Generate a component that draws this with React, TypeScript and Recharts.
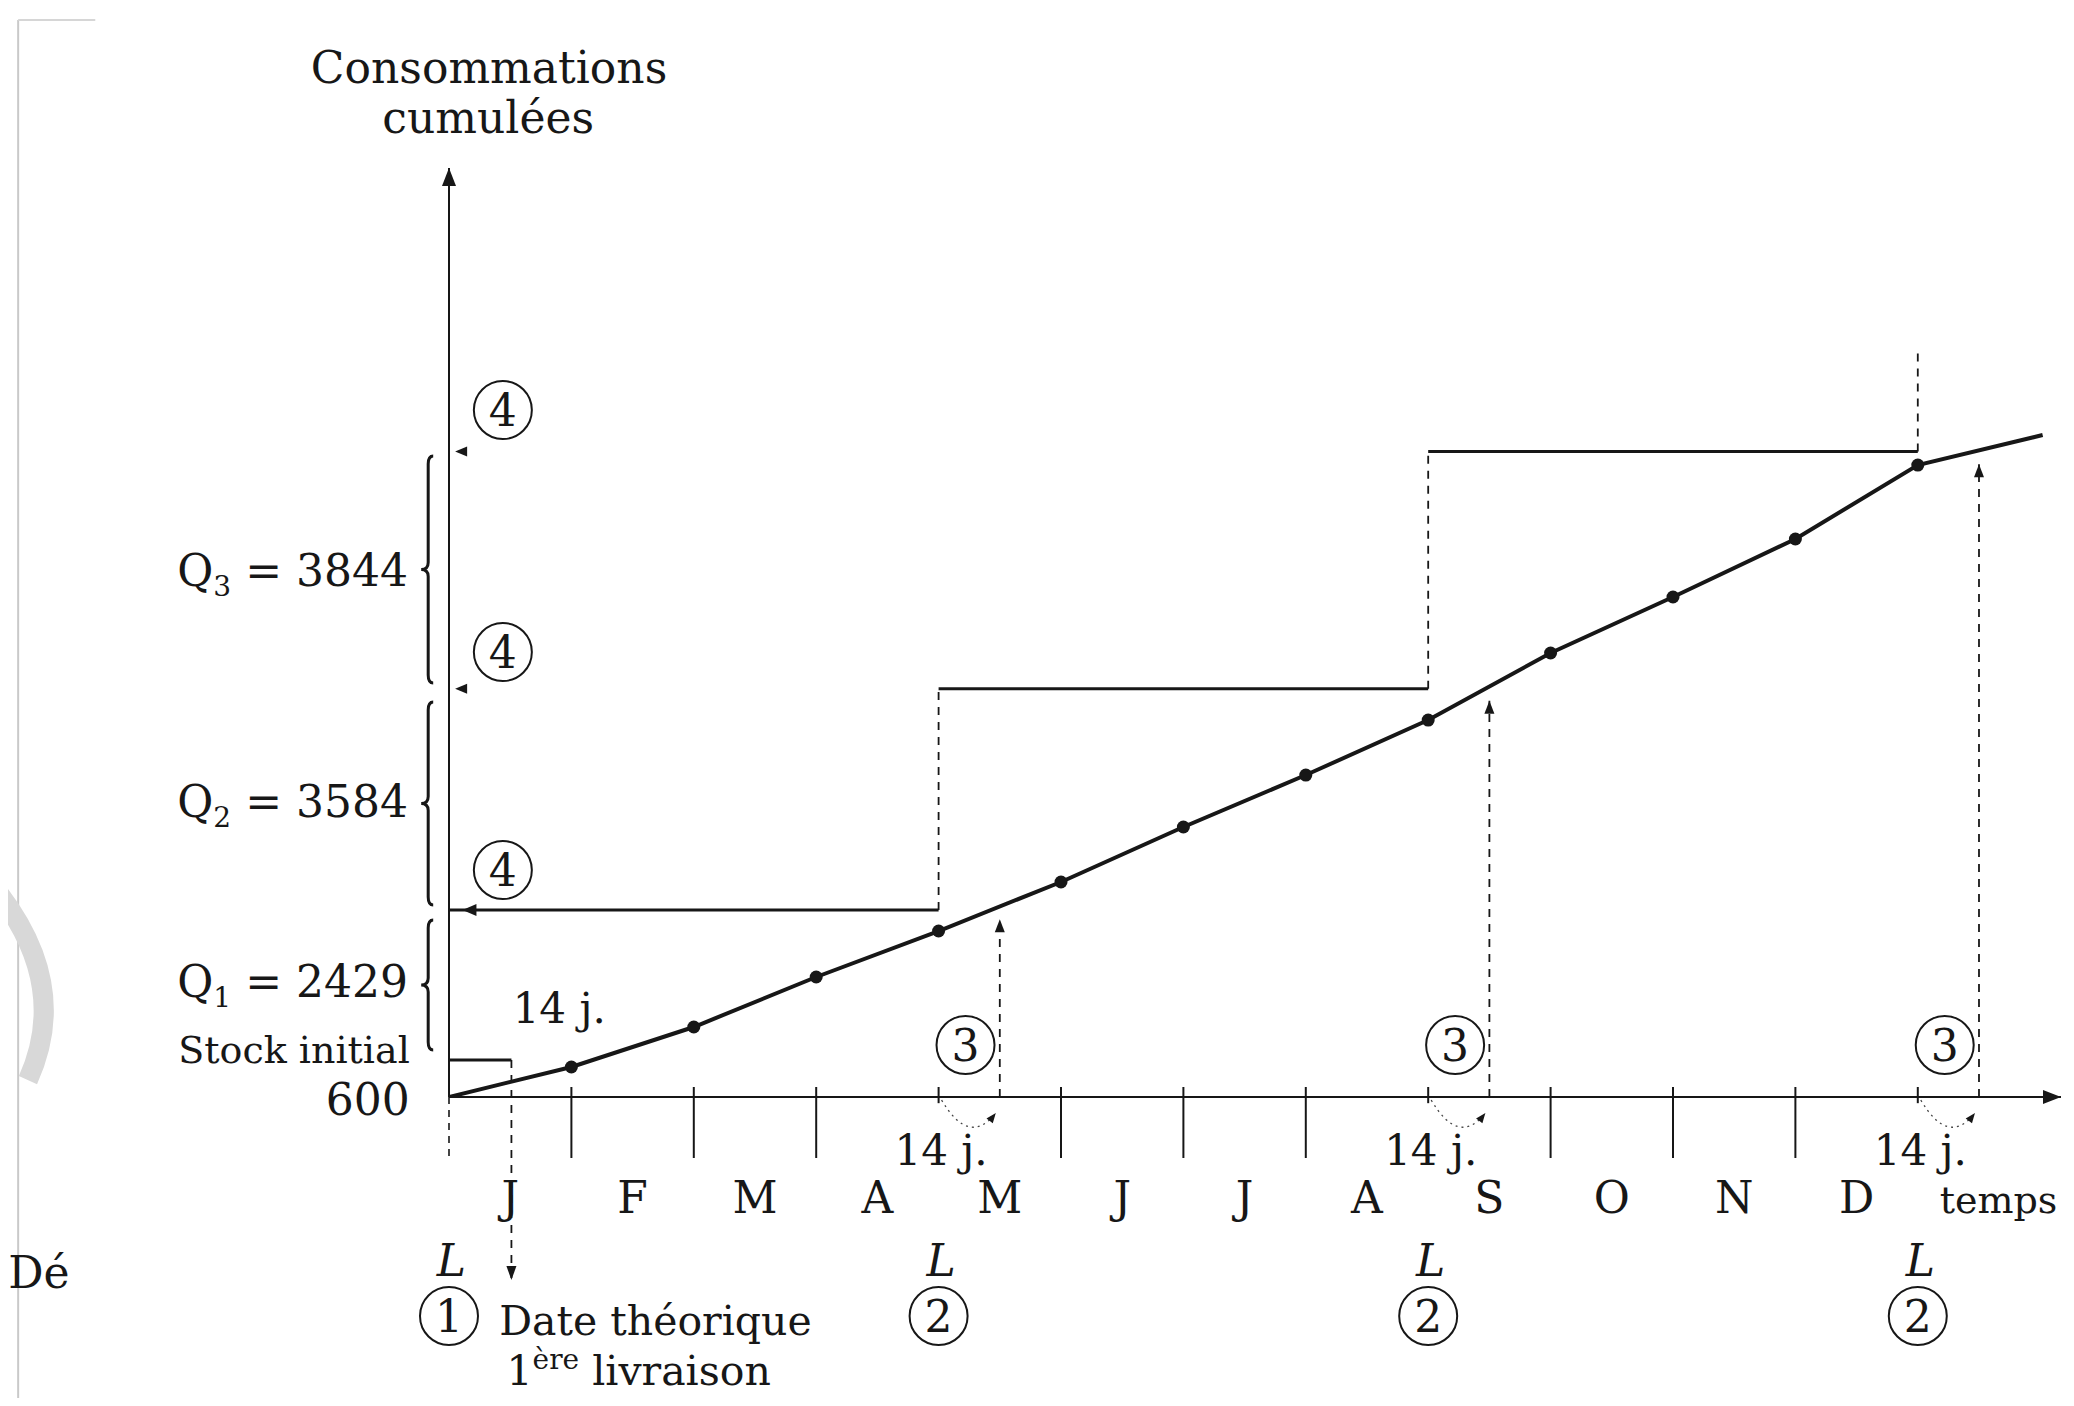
import { ComposedChart, Line, XAxis, YAxis, ReferenceLine, ReferenceDot } from 'recharts'

// consommations cumulées en fin de mois (dernier point : prolongement après D)
const MONTH_END = [0, 1, 2, 3, 4, 5, 6, 7, 8, 9, 10, 11, 12, 13.02]
const CUMUL = [0, 486, 1134, 1944, 2689, 3483, 4374, 5216, 6107, 7193, 8100, 9040, 10238, 10724]

const MONTHS = ['J', 'F', 'M', 'A', 'M', 'J', 'J', 'A', 'S', 'O', 'N', 'D']
const MONTH_MID = [0.5, 1.5, 2.5, 3.5, 4.5, 5.5, 6.5, 7.5, 8.5, 9.5, 10.5, 11.5]
const TEMPS_AT = 12.66
const LONG_TICKS = [1, 2, 3, 5, 6, 7, 9, 10, 11]

const STOCK_INITIAL = 600
const Q_VALUES = [2429, 3584, 3844]
const Q_NAMES = ['1', '2', '3']
const DELIVERIES = [4, 8, 12] // L
const LEAD = 0.5 // 14 j.
const RECEPTION_TIPS = [2880, 6420, 10250]
const TOP_DASH_END = 12053

const LEVELS = Q_VALUES.map((_, i) => STOCK_INITIAL + Q_VALUES.slice(0, i + 1).reduce((a, b) => a + b, 0))

const chartData = MONTH_END.map((t, i) => ({ t, c: CUMUL[i] }))

const W = 2058
const H = 1390
const XMAX = 13.17
const YMAX = 15050

const INK = '#171717'
const SERIF = '"DejaVu Serif", "Liberation Serif", serif'
const FS = 44

function headPoints(x1: number, y1: number, x2: number, y2: number, len: number, half: number) {
  const a = Math.atan2(y2 - y1, x2 - x1)
  const bx = x2 - len * Math.cos(a)
  const by = y2 - len * Math.sin(a)
  const px = -Math.sin(a) * half
  const py = Math.cos(a) * half
  return `${x2},${y2} ${bx + px},${by + py} ${bx - px},${by - py}`
}

const stroke = (width: number, dash?: string, head?: [number, number], color = INK) => (p: any) => (
  <g>
    <line x1={p.x1} y1={p.y1} x2={p.x2} y2={p.y2} stroke={color} strokeWidth={width} strokeDasharray={dash} />
    {head && <polygon points={headPoints(p.x1, p.y1, p.x2, p.y2, head[0], head[1])} fill={color} />}
  </g>
)

const leftHead = (len: number, half: number) => (p: any) => (
  <polygon points={`${p.cx},${p.cy} ${p.cx + len},${p.cy - half} ${p.cx + len},${p.cy + half}`} fill={INK} />
)

const brace = (p: any) => {
  const x = p.x1
  const top = Math.min(p.y1, p.y2)
  const bot = Math.max(p.y1, p.y2)
  const mid = (top + bot) / 2
  const d = `M ${x + 5} ${top} Q ${x} ${top} ${x} ${top + 8} L ${x} ${mid - 7} Q ${x} ${mid} ${x - 7} ${mid} Q ${x} ${mid} ${x} ${mid + 7} L ${x} ${bot - 8} Q ${x} ${bot} ${x + 5} ${bot}`
  return <path d={d} fill="none" stroke={INK} strokeWidth={3} />
}

const arc = (p: any) => {
  const mx = (p.x1 + p.x2) / 2
  const sx = p.x1 + 3
  const sy = p.y1 + 3
  const ex = p.x2 - 4
  const ey = p.y1 + 16
  const cy = p.y1 + 50
  return (
    <g>
      <path d={`M ${sx} ${sy} Q ${mx} ${cy} ${ex} ${ey}`} fill="none" stroke="#444" strokeWidth={1.3} strokeDasharray="2 4" />
      <polygon points={headPoints(mx, cy, ex, ey, 10, 4)} fill={INK} />
    </g>
  )
}

const text = (content: any, anchor = 'start', size = FS, extra: any = {}) => (p: any) => (
  <text x={p.cx} y={p.cy} textAnchor={anchor} fontSize={size} fontFamily={SERIF} fill={INK} {...extra}>
    {content}
  </text>
)

const circled = (n: string) => (p: any) => (
  <g>
    <circle cx={p.cx} cy={p.cy} r={29} fill="none" stroke={INK} strokeWidth={2} />
    <text x={p.cx} y={p.cy + 16} textAnchor="middle" fontSize={44} fontFamily={SERIF} fill={INK}>
      {n}
    </text>
  </g>
)

const dotAt = (key: string, x: number, y: number, shape: any) => (
  <ReferenceDot key={key} x={x} y={y} r={0} ifOverflow="visible" shape={shape} />
)

const segAt = (key: string, a: [number, number], b: [number, number], shape: any) => (
  <ReferenceLine key={key} segment={[{ x: a[0], y: a[1] }, { x: b[0], y: b[1] }]} ifOverflow="visible" shape={shape} />
)

const renderDot = (p: any) =>
  p.index > 0 && p.index < CUMUL.length - 1 ? (
    <circle key={`d${p.index}`} cx={p.cx} cy={p.cy} r={6.5} fill={INK} />
  ) : (
    <g key={`d${p.index}`} />
  )

const renderTick = (p: any) => {
  const i = MONTH_MID.indexOf(p.payload.value)
  const label = i >= 0 ? MONTHS[i] : 'temps'
  return (
    <text x={p.x} y={p.y + 116} textAnchor="middle" fontSize={i >= 0 ? FS : 38} fontFamily={SERIF} fill={INK}>
      {label}
    </text>
  )
}

export default function App() {
  const qLabelY = [1620, 4536, 8278]
  const braceSpans: [number, number][] = [
    [2867, 761],
    [6399, 3110],
    [10384, 6707],
  ]
  const fourY = [3677, 7209, 11129]

  return (
    <div style={{ width: W, height: H, background: '#fff' }}>
      <ComposedChart width={W} height={H} data={chartData} margin={{ top: 160, right: 5, left: 441, bottom: 271 }}>
        <XAxis
          dataKey="t"
          type="number"
          domain={[0, XMAX]}
          allowDataOverflow
          ticks={[...MONTH_MID, TEMPS_AT]}
          interval={0}
          tickLine={false}
          axisLine={false}
          tickSize={0}
          tickMargin={0}
          height={30}
          tick={renderTick}
        />
        <YAxis type="number" domain={[0, YMAX]} allowDataOverflow hide />

        {/* bords du scan */}
        {segAt('scan-v', [-3.52, 17447], [-3.52, -5006], stroke(2, undefined, undefined, '#c9c9c9'))}
        {segAt('scan-h', [-3.52, 17447], [-2.89, 17447], stroke(2, undefined, undefined, '#d6d6d6'))}
        {segAt('wm', [-3.668, 3272], [-3.44, 275], (p: any) => (
          <path d={`M ${p.x1} ${p.y1} Q ${p.x1 + 70} ${(p.y1 + p.y2) / 2} ${p.x2} ${p.y2}`} fill="none" stroke="#d8d8d8" strokeWidth={20} />
        ))}
        {dotAt('de', -3.1, -3094, text('Dé', 'end'))}

        {/* axes */}
        {segAt('axis-y', [0, 0], [0, YMAX], stroke(2, undefined, [18, 7]))}
        {segAt('axis-x', [0, 0], [XMAX, 0], stroke(2, undefined, [18, 7]))}
        {segAt('tick-0', [0, 0], [0, -988], stroke(1.6, '7 6'))}
        {LONG_TICKS.map((m) => segAt(`tick-${m}`, [m, 162], [m, -988], stroke(2)))}
        {DELIVERIES.map((m) => segAt(`tick-l-${m}`, [m, 162], [m, -100], stroke(2)))}

        {dotAt('title-1', 0.327, 16427, text('Consommations', 'middle'))}
        {dotAt('title-2', 0.32, 15617, text('cumulées', 'middle'))}

        {/* stock initial et première livraison théorique */}
        {segAt('stock', [0, STOCK_INITIAL], [0.51, STOCK_INITIAL], stroke(3))}
        {segAt('first', [0.51, STOCK_INITIAL], [0.51, -2965], stroke(1.8, '8 7', [14, 5]))}
        {dotAt('stock-t', -0.32, 551, text('Stock initial', 'end', 38))}
        {dotAt('stock-v', -0.32, -292, text('600', 'end'))}
        {dotAt('14j-0', 0.52, 1199, text('14 j.', 'start', 42))}

        {/* niveaux de commande */}
        {segAt('lvl-0', [DELIVERIES[0], LEVELS[0]], [0, LEVELS[0]], stroke(3))}
        {dotAt('lvl-0-h', 0.11, LEVELS[0], leftHead(14, 6))}
        {segAt('lvl-1', [DELIVERIES[0], LEVELS[1]], [DELIVERIES[1], LEVELS[1]], stroke(3))}
        {segAt('lvl-2', [DELIVERIES[1], LEVELS[2]], [DELIVERIES[2], LEVELS[2]], stroke(3))}
        {dotAt('lvl-1-h', 0.05, LEVELS[1], leftHead(12, 5))}
        {dotAt('lvl-2-h', 0.05, LEVELS[2], leftHead(12, 5))}
        {segAt('up-0', [DELIVERIES[0], LEVELS[0]], [DELIVERIES[0], LEVELS[1]], stroke(1.8, '8 7'))}
        {segAt('up-1', [DELIVERIES[1], LEVELS[1]], [DELIVERIES[1], LEVELS[2]], stroke(1.8, '8 7'))}
        {segAt('up-2', [DELIVERIES[2], LEVELS[2]], [DELIVERIES[2], TOP_DASH_END], stroke(1.8, '8 7'))}

        {braceSpans.map((b, i) => segAt(`brace-${i}`, [-0.17, b[0]], [-0.17, b[1]], brace))}
        {Q_VALUES.map((q, i) =>
          dotAt(
            `q-${i}`,
            -0.335,
            qLabelY[i],
            text(
              <>
                <tspan>Q</tspan>
                <tspan fontSize={28} dy={10}>
                  {Q_NAMES[i]}
                </tspan>
                <tspan dy={-10}>{` = ${q}`}</tspan>
              </>,
              'end'
            )
          )
        )}
        {fourY.map((y, i) => dotAt(`four-${i}`, 0.44, y, circled('4')))}

        {/* livraisons L et réceptions à L + 14 j. */}
        {DELIVERIES.map((m, i) => segAt(`recv-${i}`, [m + LEAD, 0], [m + LEAD, RECEPTION_TIPS[i]], stroke(1.8, '8 7', [13, 5])))}
        {DELIVERIES.map((m) => segAt(`arc-${m}`, [m, 0], [m + LEAD, 0], arc))}
        {DELIVERIES.map((m) => dotAt(`14j-${m}`, m - 0.36, -1102, text('14 j.', 'start', 42)))}
        {DELIVERIES.map((m) => dotAt(`three-${m}`, m + 0.22, 842, circled('3')))}
        {[0, ...DELIVERIES].map((m) => dotAt(`L-${m}`, m + 0.02, -2900, text('L', 'middle', FS, { fontStyle: 'italic' })))}
        {[0, ...DELIVERIES].map((m) => dotAt(`n-${m}`, m, -3548, circled(m === 0 ? '1' : '2')))}
        {dotAt('date-1', 0.41, -3856, text('Date théorique', 'start', 41))}
        {dotAt(
          'date-2',
          0.47,
          -4666,
          text(
            <>
              <tspan>1</tspan>
              <tspan fontSize={28} dy={-16}>
                ère
              </tspan>
              <tspan dy={16}> livraison</tspan>
            </>,
            'start',
            41
          )
        )}

        <Line
          dataKey="c"
          type="linear"
          stroke={INK}
          strokeWidth={4}
          dot={renderDot}
          activeDot={false}
          isAnimationActive={false}
        />
      </ComposedChart>
    </div>
  )
}
